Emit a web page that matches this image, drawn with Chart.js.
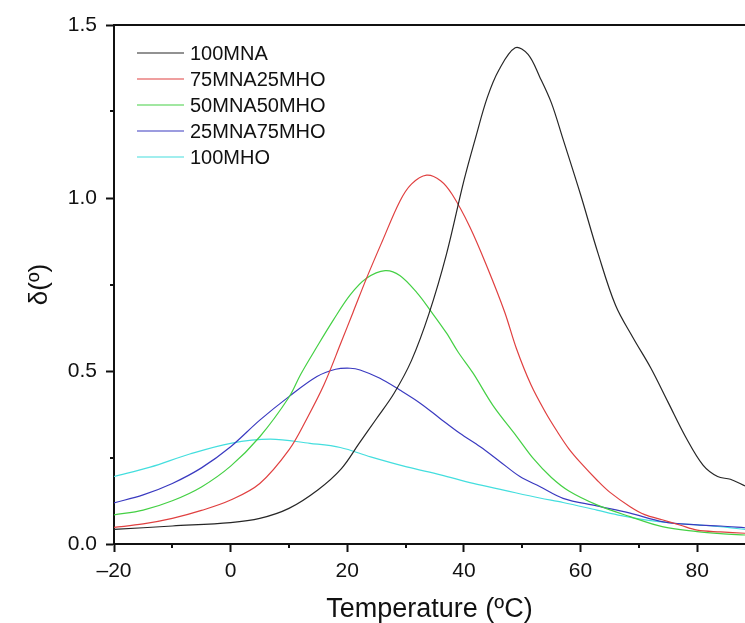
<!DOCTYPE html>
<html>
<head>
<meta charset="utf-8">
<script src="https://cdn.jsdelivr.net/npm/chart.js@4"></script>
<style>
  html, body { margin: 0; padding: 0; background: #fff; }
  #wrap { width: 745px; height: 623px; position: relative; }
</style>
</head>
<body>
<div id="wrap"><canvas id="c"></canvas></div>
<script>
// temperatura (ºC) e delta (º)
const T_100MNA = [-20, -10, 0, 5, 10, 15, 19, 22, 25, 28, 31, 34, 37, 40, 42, 44, 46, 48.8, 51, 53, 55, 57, 60, 63, 66, 69, 72, 75, 78, 81, 83.5, 85.7, 88.2];
const D_100MNA = [0.042, 0.052, 0.062, 0.074, 0.103, 0.157, 0.218, 0.29, 0.362, 0.435, 0.53, 0.665, 0.837, 1.05, 1.174, 1.29, 1.37, 1.434, 1.415, 1.35, 1.275, 1.17, 1.01, 0.84, 0.69, 0.596, 0.51, 0.41, 0.31, 0.228, 0.195, 0.187, 0.168];

const T_75MNA = [-20, -15, -10, -5, 0, 5, 10, 13, 16, 19, 21, 23.4, 26, 29, 31, 33.6, 36, 38, 41, 44, 47, 49, 51.5, 54, 56, 58, 60, 62.8, 65, 68.5, 71, 74, 77, 80, 84, 88.2];
const D_75MNA = [0.048, 0.058, 0.074, 0.097, 0.127, 0.175, 0.272, 0.36, 0.46, 0.585, 0.67, 0.772, 0.875, 0.99, 1.04, 1.066, 1.05, 1.01, 0.917, 0.80, 0.67, 0.565, 0.46, 0.38, 0.325, 0.275, 0.235, 0.185, 0.15, 0.108, 0.085, 0.07, 0.055, 0.04, 0.035, 0.031];

const T_50MNA = [-20, -15, -10, -5, 0, 5, 10, 12, 14.8, 17.6, 20.5, 23.3, 26.5, 29, 32, 34.2, 37, 39, 41.6, 45, 49, 52, 55, 58, 62.8, 68.5, 74, 80, 84, 88.2];
const D_50MNA = [0.084, 0.098, 0.125, 0.165, 0.225, 0.31, 0.424, 0.49, 0.57, 0.647, 0.72, 0.768, 0.79, 0.776, 0.725, 0.676, 0.61, 0.555, 0.493, 0.40, 0.312, 0.245, 0.192, 0.153, 0.113, 0.079, 0.05, 0.036, 0.03, 0.026];

const T_25MNA = [-20, -15, -10, -5, 0, 5, 10, 14.8, 18, 20.5, 22.2, 25.6, 29, 32.5, 35.9, 39.3, 42.8, 46.2, 49.6, 53, 57, 62.8, 68.5, 74.2, 80, 84, 88.2];
const D_25MNA = [0.119, 0.142, 0.175, 0.22, 0.281, 0.358, 0.426, 0.484, 0.505, 0.508, 0.503, 0.479, 0.445, 0.407, 0.363, 0.32, 0.281, 0.238, 0.195, 0.166, 0.132, 0.11, 0.089, 0.064, 0.055, 0.052, 0.047];

const T_100MHO = [-20, -13.8, -7, 0, 6.8, 13.6, 18.8, 24, 30.2, 36, 41.6, 47, 53, 57, 62.8, 67, 71.4, 76, 80, 84, 88.2];
const D_100MHO = [0.195, 0.222, 0.26, 0.291, 0.303, 0.291, 0.279, 0.252, 0.223, 0.2, 0.175, 0.155, 0.133, 0.12, 0.098, 0.082, 0.069, 0.06, 0.055, 0.05, 0.042];

const SERIES = [
  { label: '100MNA', t: T_100MNA, d: D_100MNA, cor: '#262626' },
  { label: '75MNA25MHO', t: T_75MNA, d: D_75MNA, cor: '#e04040' },
  { label: '50MNA50MHO', t: T_50MNA, d: D_50MNA, cor: '#44d044' },
  { label: '25MNA75MHO', t: T_25MNA, d: D_25MNA, cor: '#3a3ac0' },
  { label: '100MHO', t: T_100MHO, d: D_100MHO, cor: '#44dede' }
];

const X_MIN = -20, X_MAX = 88.2, X_STEP = 20;
const Y_MIN = 0, Y_MAX = 1.5, Y_STEP = 0.5;
const FONTE = '"Liberation Sans", Arimo, Arial, sans-serif';

const datasets = SERIES.map(s => ({
  label: s.label,
  data: s.t.map((t, i) => ({ x: t, y: s.d[i] })),
  borderColor: s.cor,
  borderWidth: 1.2,
  pointRadius: 0,
  tension: 0.35,
  fill: false
}));

// ticks menores, linha do topo e legenda dentro do grafico
const extras = {
  id: 'extras',
  afterDraw(chart) {
    const { ctx, chartArea: a, scales: { x, y } } = chart;
    ctx.save();
    ctx.strokeStyle = '#111';
    ctx.lineWidth = 2;
    ctx.beginPath();
    ctx.moveTo(a.left - 1, a.top);
    ctx.lineTo(a.right, a.top);
    ctx.stroke();
    ctx.beginPath();
    for (let v = X_MIN + X_STEP / 2; v < X_MAX; v += X_STEP) {
      const px = Math.round(x.getPixelForValue(v));
      ctx.moveTo(px, a.bottom);
      ctx.lineTo(px, a.bottom + 4);
    }
    for (let v = Y_MIN + Y_STEP / 2; v < Y_MAX; v += Y_STEP) {
      const py = Math.round(y.getPixelForValue(v));
      ctx.moveTo(a.left, py);
      ctx.lineTo(a.left - 4, py);
    }
    ctx.stroke();

    ctx.font = '20px ' + FONTE;
    ctx.textBaseline = 'middle';
    ctx.fillStyle = '#111';
    chart.data.datasets.forEach((ds, i) => {
      const ly = a.top + 28 + i * 26;
      ctx.strokeStyle = ds.borderColor;
      ctx.lineWidth = 1.2;
      ctx.beginPath();
      ctx.moveTo(a.left + 23, ly);
      ctx.lineTo(a.left + 70, ly);
      ctx.stroke();
      ctx.fillText(ds.label, a.left + 76, ly + 1);
    });
    ctx.restore();
  }
};

new Chart(document.getElementById('c'), {
  type: 'line',
  data: { datasets },
  plugins: [extras],
  options: {
    responsive: true, maintainAspectRatio: false,
    animation: false,
    layout: { padding: { top: 25, right: 0, left: 0, bottom: 0 } },
    plugins: { legend: { display: false }, tooltip: { enabled: false } },
    scales: {
      x: {
        type: 'linear', min: X_MIN, max: X_MAX,
        afterFit: s => { s.height = 79; },
        border: { display: true, color: '#111', width: 2 },
        grid: { drawOnChartArea: false, drawTicks: true, tickLength: 8, tickWidth: 2, tickColor: '#111' },
        ticks: {
          stepSize: X_STEP, includeBounds: false, padding: 7, color: '#111', maxRotation: 0,
          font: { family: FONTE, size: 21 },
          callback: v => v < 0 ? '\u2013' + Math.abs(v) : String(v)
        },
        title: { display: true, text: 'Temperature (ºC)', color: '#111', padding: { top: 0, bottom: 0 }, font: { family: FONTE, size: 27, lineHeight: 1 } }
      },
      y: {
        type: 'linear', min: Y_MIN, max: Y_MAX,
        afterFit: s => { s.width = 114; },
        border: { display: true, color: '#111', width: 2 },
        grid: { drawOnChartArea: false, drawTicks: true, tickLength: 8, tickWidth: 2, tickColor: '#111' },
        ticks: {
          stepSize: Y_STEP, padding: 9, color: '#111',
          font: { family: FONTE, size: 21 },
          callback: v => v.toFixed(1)
        },
        title: { display: true, text: 'δ(º)', color: '#111', padding: { top: 24, bottom: 0 }, font: { family: FONTE, size: 26, lineHeight: 1.2 } }
      }
    }
  }
});
</script>
</body>
</html>
